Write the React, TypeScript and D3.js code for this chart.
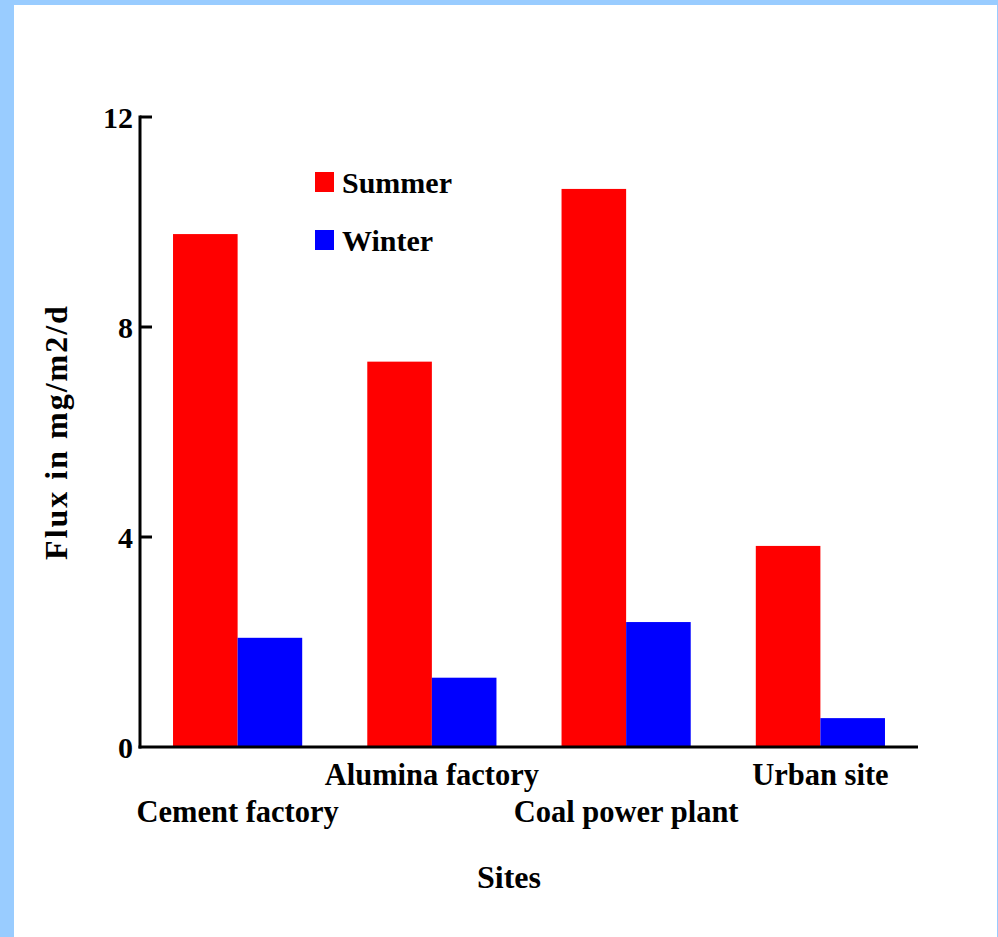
import React from "react";
import * as d3 from "d3";

const categories = ["Cement factory", "Alumina factory", "Coal power plant", "Urban site"];
const seriesNames = ["Summer", "Winter"];
const summer = [9.77, 7.34, 10.63, 3.83];
const winter = [2.08, 1.32, 2.38, 0.55];
const yTicks = [0, 4, 8, 12];

const W = 998;
const H = 937;
const FONT = "'Times New Roman', 'Liberation Serif', serif";

export default function App() {
  const x0 = 140, x1 = 918, y0 = 747, y1 = 117;
  const y = d3.scaleLinear().domain([0, 12]).range([y0, y1]);
  const xBand = d3.scaleBand<string>().domain(categories).range([x0, x1]).paddingInner(0.335).paddingOuter(0.17);
  const xSub = d3.scaleBand<string>().domain(seriesNames).range([0, xBand.bandwidth()]);
  const colors = d3.scaleOrdinal<string, string>().domain(seriesNames).range(["#FF0000", "#0000FF"]);
  const data = [summer, winter];

  return (
    <svg width={W} height={H} style={{ position: "absolute", left: 0, top: 0 }} fontFamily={FONT} fontWeight="bold">
      <rect x={0} y={0} width={W} height={H} fill="#99CCFF" />
      <rect x={14} y={5} width={W - 15} height={H - 5} fill="#FFFFFF" />
      {categories.map((c, i) =>
        seriesNames.map((s, j) => (
          <rect
            key={c + s}
            x={(xBand(c) as number) + (xSub(s) as number)}
            y={y(data[j][i])}
            width={xSub.bandwidth()}
            height={y0 - y(data[j][i])}
            fill={colors(s)}
          />
        ))
      )}
      {/* axes */}
      <line x1={x0} x2={x0} y1={y1 - 1.5} y2={y0 + 1.5} stroke="#000" strokeWidth={3} />
      <line x1={x0 - 1.5} x2={x1} y1={y0} y2={y0} stroke="#000" strokeWidth={3} />
      {yTicks.map((t) => (
        <g key={t}>
          {t !== 0 && <line x1={x0} x2={x0 + 12} y1={y(t)} y2={y(t)} stroke="#000" strokeWidth={3} />}
          <text x={133} y={y(t)} dy="0.35em" textAnchor="end" fontSize={30}>{t}</text>
        </g>
      ))}
      {categories.map((c, i) => (
        <text
          key={c}
          x={(xBand(c) as number) + xBand.bandwidth() / 2}
          y={i % 2 === 0 ? 822 : 785}
          textAnchor="middle"
          fontSize={30.5}
        >
          {c}
        </text>
      ))}
      <text x={509} y={888} textAnchor="middle" fontSize={32}>Sites</text>
      <text transform="translate(67,432) rotate(-90)" textAnchor="middle" fontSize={32} letterSpacing={2}>Flux in mg/m2/d</text>
      {seriesNames.map((s, j) => (
        <g key={s}>
          <rect x={315} y={172 + j * 58} width={19} height={20} fill={colors(s)} />
          <text x={342} y={193 + j * 58} fontSize={30}>{s}</text>
        </g>
      ))}
    </svg>
  );
}
